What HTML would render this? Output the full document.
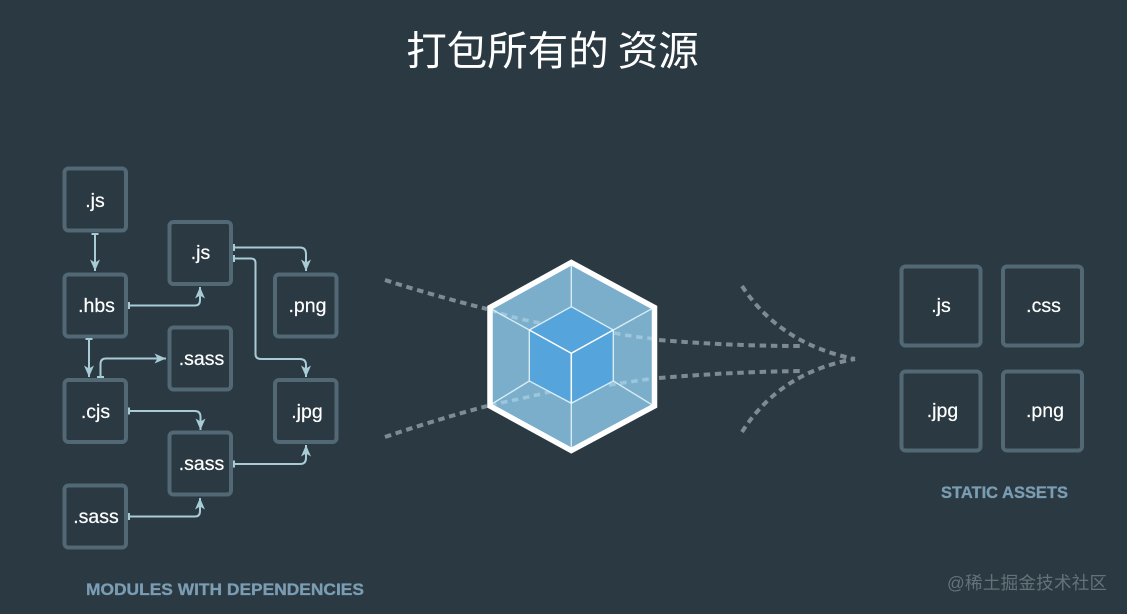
<!DOCTYPE html>
<html>
<head>
<meta charset="utf-8">
<style>
html,body{margin:0;padding:0;background:#2b3a42;width:1127px;height:614px;overflow:hidden}
svg{display:block}
text{font-family:"Liberation Sans","Noto Sans CJK SC",sans-serif}
.n{fill:#fff;font-size:19.5px;text-anchor:middle;stroke:#fff;stroke-width:.2}
.b{fill:none;stroke:#526874;stroke-width:4}
.c{fill:none;stroke:#a8cbd6;stroke-width:2}
.l{fill:#7b9db4;font-size:16.5px;font-weight:bold;stroke:#7b9db4;stroke-width:.3}
.d{fill:none;stroke:#7e8b93;stroke-width:4;stroke-dasharray:6.5 4.700}
.i{fill:none;stroke:#9cc6dc;stroke-width:3.6;stroke-dasharray:6.5 4.700}
</style>
</head>
<body>
<svg width="1127" height="614" viewBox="0 0 1127 614" xmlns="http://www.w3.org/2000/svg">
<defs>
<marker id="a" markerUnits="userSpaceOnUse" markerWidth="14" markerHeight="14" refX="11.500" refY="6" orient="auto">
<path d="M0 1L11.500 6L0 11L3 6Z" fill="#a8cbd6"/>
</marker>
<marker id="t" markerUnits="userSpaceOnUse" markerWidth="6" markerHeight="10" refX="1" refY="3.500" orient="auto">
<path d="M1 0V7" stroke="#a8cbd6" stroke-width="2" fill="none"/>
</marker>
</defs>
<rect width="1127" height="614" fill="#2b3a42"/>

<text x="552.500" y="65" fill="#fff" font-size="40.500" text-anchor="middle" style="font-family:'Noto Sans CJK SC',sans-serif">打包所有的 资源</text>

<!-- module boxes -->
<rect class="b" x="64.500" y="168.500" width="61.500" height="62" rx="4"/>
<rect class="b" x="64.500" y="274.500" width="61.500" height="62" rx="4"/>
<rect class="b" x="64.500" y="380" width="61.500" height="62" rx="4"/>
<rect class="b" x="64.500" y="485.500" width="61.500" height="62" rx="4"/>
<rect class="b" x="169.500" y="222" width="61.500" height="62" rx="4"/>
<rect class="b" x="169.500" y="327.500" width="61.500" height="62" rx="4"/>
<rect class="b" x="169.500" y="432.500" width="61.500" height="62" rx="4"/>
<rect class="b" x="275" y="274.500" width="61.500" height="62" rx="4"/>
<rect class="b" x="275" y="380" width="61.500" height="62" rx="4"/>

<text class="n" x="95" y="207">.js</text>
<text class="n" x="96.500" y="312">.hbs</text>
<text class="n" x="95.500" y="418">.cjs</text>
<text class="n" x="96" y="523">.sass</text>
<text class="n" x="200.500" y="259">.js</text>
<text class="n" x="201.500" y="365">.sass</text>
<text class="n" x="201.500" y="470">.sass</text>
<text class="n" x="307.500" y="312">.png</text>
<text class="n" x="307" y="418">.jpg</text>

<!-- connectors -->
<path class="c" marker-start="url(#t)" marker-end="url(#a)" d="M95 234V271"/>
<path class="c" marker-start="url(#t)" marker-end="url(#a)" d="M129 305.500H195Q200 305.500 200 300V287"/>
<path class="c" marker-start="url(#t)" marker-end="url(#a)" d="M234 247.500H300Q306 247.500 306 254V271"/>
<path class="c" marker-start="url(#t)" marker-end="url(#a)" d="M234 258.500H251Q255.500 258.500 255.500 263V354Q255.500 359 261 359H300Q306 359 306 365V377"/>
<path class="c" marker-start="url(#t)" marker-end="url(#a)" d="M89 339V377"/>
<path class="c" marker-start="url(#t)" marker-end="url(#a)" d="M100.500 377V364Q100.500 358.500 106 358.500H166"/>
<path class="c" marker-start="url(#t)" marker-end="url(#a)" d="M129 411H195Q200.500 411 200.500 417V430"/>
<path class="c" marker-start="url(#t)" marker-end="url(#a)" d="M234 464H300Q306 464 306 458V445"/>
<path class="c" marker-start="url(#t)" marker-end="url(#a)" d="M129 516.500H195Q200 516.500 200 511V498"/>

<text class="l" x="86" y="595" textLength="278" lengthAdjust="spacingAndGlyphs">MODULES WITH DEPENDENCIES</text>

<!-- dotted lines outside the cube -->
<path class="d" d="M385 280Q435 296 487 309"/>
<path class="d" d="M385 437Q435 420 487 406"/>
<path class="d" d="M659 340Q730 346 800 346"/>
<path class="d" d="M659 378Q730 372 800 371"/>
<path class="d" d="M742 286Q780 344 855 359"/>
<path class="d" d="M742 432Q780 372 855 359"/>

<!-- cube -->
<polygon points="571.300,262.500 654.500,307.500 654.500,406 571.300,450.500 490,406 490,307.500" fill="#7aaecb"/>
<path class="i" d="M490 310Q520 320 541 323"/>
<path class="i" d="M490 405Q530 397 553 391"/>
<path class="i" d="M614 333Q635 337 656 339"/>
<path class="i" d="M609 385Q635 381 656 378"/>
<polygon points="571.300,306.700 613.300,330 613.300,381 571.300,403.300 529.300,381 529.300,330" fill="#55a4dc"/>
<g fill="none" stroke="#d6ecf6" stroke-width="1.400">
<path d="M571.300 262V306.700M571.300 403.300V451M488.500 307.500L529.300 330M654 307.500L613.300 330M488.500 406L529.300 381M654 406L613.300 381"/>
<path d="M529.300 330L571.300 306.700L613.300 330V381L571.300 403.300L529.300 381Z"/>
</g>
<path d="M529.300 330L571.300 353.300L613.300 330M571.300 353.300V403.300" fill="none" stroke="#fff" stroke-width="1.500"/>
<polygon points="571.300,262.500 654.500,307.500 654.500,406 571.300,450.500 490,406 490,307.500" fill="none" stroke="#fff" stroke-width="5.500"/>

<!-- static boxes -->
<rect class="b" x="901.500" y="266.500" width="79" height="79" rx="4"/>
<rect class="b" x="1003" y="266.500" width="79" height="79" rx="4"/>
<rect class="b" x="901.500" y="371.500" width="79" height="79" rx="4"/>
<rect class="b" x="1003" y="371.500" width="79" height="79" rx="4"/>

<text class="n" x="941" y="312">.js</text>
<text class="n" x="1043.500" y="312">.css</text>
<text class="n" x="942.500" y="417">.jpg</text>
<text class="n" x="1045" y="417">.png</text>

<text class="l" x="941" y="498" textLength="127" lengthAdjust="spacingAndGlyphs">STATIC ASSETS</text>

<text x="947" y="589" fill="#65727a" font-size="17.500" textLength="160" style="font-family:'Liberation Sans','Noto Sans CJK SC',sans-serif">@稀土掘金技术社区</text>
</svg>
</body>
</html>
